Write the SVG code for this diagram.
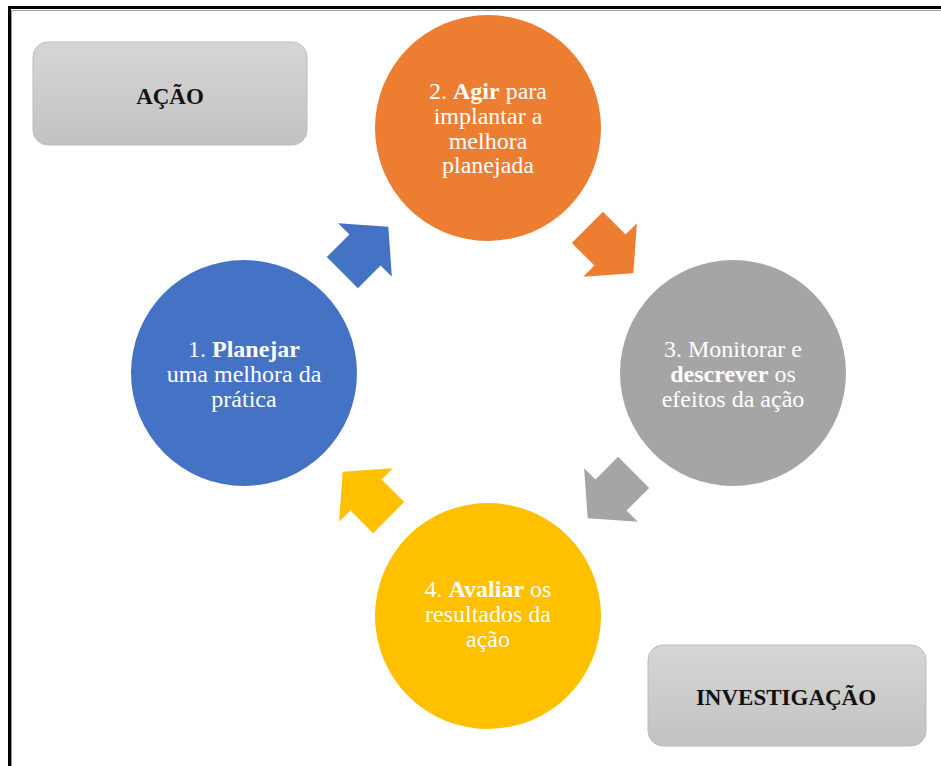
<svg xmlns="http://www.w3.org/2000/svg" width="941" height="766" viewBox="0 0 941 766">
  <style>
    .ct { font-family: "Liberation Serif", "Times New Roman", serif; font-size: 24px; fill: #ffffff; text-anchor: middle; }
    .bt { font-family: "Liberation Serif", "Times New Roman", serif; font-size: 23px; font-weight: bold; fill: #111111; text-anchor: middle; }
    .b { font-weight: bold; }
    .box { fill: url(#g); stroke: #bcbcbc; stroke-width: 1; }
  </style>
  <defs>
    <linearGradient id="g" x1="0" y1="0" x2="0" y2="1">
      <stop offset="0" stop-color="#d6d6d6"/>
      <stop offset="1" stop-color="#c2c2c2"/>
    </linearGradient>
    <path id="arr" d="M -32,-22 L 0,-22 L 0,-38 L 33,0 L 0,38 L 0,22 L -32,22 Z"/>
  </defs>
  <rect width="941" height="766" fill="#ffffff"/>
  <g id="frame">
    <rect x="9.5" y="7.5" width="940" height="770" fill="none" stroke="#000000" stroke-width="3"/>
    <path d="M 11.5,780 L 11.5,10.5 L 941,10.5" fill="none" stroke="#9a9a9a" stroke-width="1"/>
  </g>
  <g id="acao">
    <rect class="box" x="33" y="42" width="274" height="103" rx="15"/>
    <text class="bt" x="170" y="104">AÇÃO</text>
  </g>
  <g id="investigacao">
    <rect class="box" x="648" y="645" width="278" height="101" rx="15"/>
    <text class="bt" x="786" y="705">INVESTIGAÇÃO</text>
  </g>
  <g id="n2">
    <circle cx="488" cy="128" r="113" fill="#ED7D31"/>
    <text class="ct" x="488" y="99">2. <tspan class="b">Agir</tspan> para</text>
    <text class="ct" x="488" y="124">implantar a</text>
    <text class="ct" x="488" y="149">melhora</text>
    <text class="ct" x="488" y="173">planejada</text>
  </g>
  <g id="n3">
    <circle cx="733" cy="373" r="113" fill="#A5A5A5"/>
    <text class="ct" x="733" y="357">3. Monitorar e</text>
    <text class="ct" x="733" y="382"><tspan class="b">descrever</tspan> os</text>
    <text class="ct" x="733" y="407">efeitos da ação</text>
  </g>
  <g id="n4">
    <circle cx="488" cy="616" r="113" fill="#FFC000"/>
    <text class="ct" x="488" y="597">4. <tspan class="b">Avaliar</tspan> os</text>
    <text class="ct" x="488" y="622">resultados da</text>
    <text class="ct" x="488" y="647">ação</text>
  </g>
  <g id="n1">
    <circle cx="244" cy="373" r="113" fill="#4472C4"/>
    <text class="ct" x="244" y="357">1. <tspan class="b">Planejar</tspan></text>
    <text class="ct" x="244" y="382">uma melhora da</text>
    <text class="ct" x="244" y="407">prática</text>
  </g>
  <g id="connectors">
    <use href="#arr" fill="#4472C4" transform="translate(365,250) rotate(-45)"/>
    <use href="#arr" fill="#ED7D31" transform="translate(610,250) rotate(45)"/>
    <use href="#arr" fill="#A5A5A5" transform="translate(611,495) rotate(135)"/>
    <use href="#arr" fill="#FFC000" transform="translate(366,495) rotate(-135)"/>
  </g>
</svg>
